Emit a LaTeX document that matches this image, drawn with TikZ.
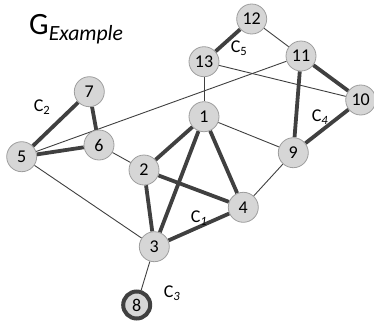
\documentclass[tikz,border=0pt]{standalone}
\usepackage{fontspec}
\setmainfont{Carlito}
\usetikzlibrary{backgrounds}
\begin{document}
\begin{tikzpicture}[x=1pt,y=-1pt,
  vtx/.style={circle,draw=black!38,fill=black!16,line width=0.8pt,minimum size=30pt,inner sep=0pt,font=\fontsize{18}{18}\selectfont},
  vtxb/.style={vtx,draw=black!75,line width=4pt,minimum size=27pt},
  thin/.style={draw=black!75,line width=0.9pt},
  thk/.style={draw=black!75,line width=3.8pt},
  lab/.style={font=\fontsize{18}{18}\selectfont,inner sep=0pt}]
\useasboundingbox (0,0) rectangle (374,327);
\node[vtx] (n12) at (251.7,19) {12};
\node[vtx] (n13) at (204,61.7) {13};
\node[vtx] (n11) at (301,56) {11};
\node[vtx] (n10) at (360.7,100) {10};
\node[vtx] (n7) at (89.3,91.7) {7};
\node[vtx] (n1) at (204,116.7) {1};
\node[vtx] (n6) at (99,145) {6};
\node[vtx] (n5) at (21.7,156.7) {5};
\node[vtx] (n9) at (293.3,152.7) {9};
\node[vtx] (n2) at (144,170) {2};
\node[vtx] (n4) at (243.3,207.3) {4};
\node[vtx] (n3) at (154.3,246.7) {3};
\node[vtxb] (n8) at (136.7,305) {8};
\begin{pgfonlayer}{background}
\draw[thk] (n12) -- (n13);
\draw[thk] (n11) -- (n10);
\draw[thk] (n11) -- (n9);
\draw[thk] (n10) -- (n9);
\draw[thk] (n7) -- (n5);
\draw[thk] (n7) -- (n6);
\draw[thk] (n5) -- (n6);
\draw[thk] (n1) -- (n2);
\draw[thk] (n1) -- (n3);
\draw[thk] (n1) -- (n4);
\draw[thk] (n2) -- (n3);
\draw[thk] (n2) -- (n4);
\draw[thk] (n3) -- (n4);
\draw[thin] (n12) -- (n11);
\draw[thin] (n13) -- (n1);
\draw[thin] (n13) -- (n10);
\draw[thin] (n11) -- (n5);
\draw[thin] (n1) -- (n9);
\draw[thin] (n9) -- (n4);
\draw[thin] (n6) -- (n2);
\draw[thin] (n5) -- (n3);
\draw[thin] (n3) -- (n8);
\end{pgfonlayer}
\node[anchor=base west,inner sep=0pt,font=\fontsize{31}{31}\selectfont] (title) at (29,34) {G\textsubscript{\itshape Example}};
\node[lab] (c2) at (42,107) {C\textsubscript{2}};
\node[lab] (c5) at (239,48) {C\textsubscript{5}};
\node[lab] (c4) at (320,117) {C\textsubscript{\itshape 4}};
\node[lab] (c1) at (199,218) {C\textsubscript{\itshape 1}};
\node[lab] (c3) at (172,293) {C\textsubscript{\itshape 3}};
\end{tikzpicture}
\end{document}
